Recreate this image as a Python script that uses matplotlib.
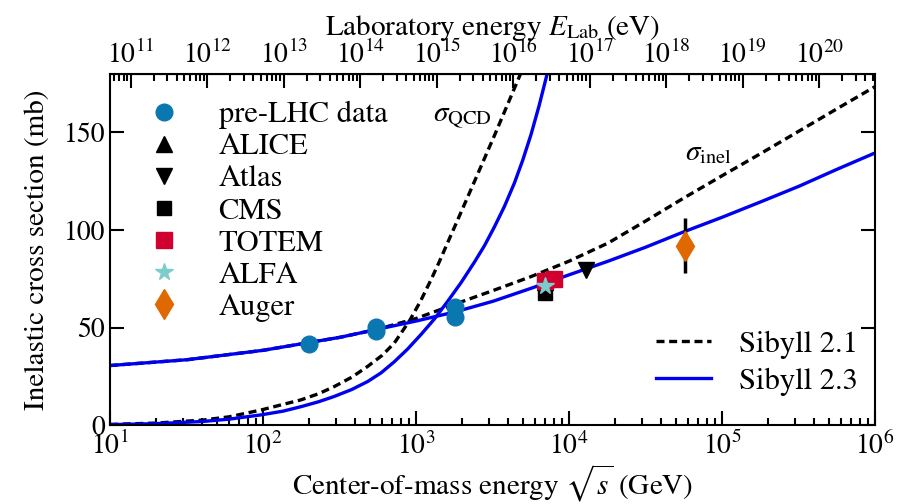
import matplotlib
matplotlib.use("Agg")
import matplotlib.pyplot as plt
from matplotlib.ticker import (FixedLocator, LogLocator, MultipleLocator,
                               NullFormatter)

plt.rcParams["font.family"] = ["STIXGeneral", "DejaVu Serif"]
plt.rcParams["mathtext.fontset"] = "stix"

PROTON_MASS_GEV = 0.938

# Measurements: sqrt(s) in GeV, inelastic cross section in mb
prelhc_sqrts = [200, 546, 546, 1800, 1800]
prelhc_sigma = [41.8, 48.4, 50.3, 55.5, 60.3]
alice_sqrts = [7000]
alice_sigma = [73.2]
atlas_sqrts = [13000]
atlas_sigma = [79.5]
cms_sqrts = [7000]
cms_sigma = [67.5]
cms_err = [3.5]
totem_sqrts = [7000, 8000]
totem_sigma = [73.7, 74.7]
alfa_sqrts = [7000]
alfa_sigma = [71.3]
auger_sqrts = [57000]
auger_sigma = [92.0]
auger_err = [14.0]

# Model curves
inel_sqrts = [10, 32, 100, 320, 560, 1000, 1800, 3200, 5600, 1e4, 1.8e4,
              3.2e4, 5.6e4, 1e5, 1.8e5, 3.2e5, 5.6e5, 1e6]
sib23_inel = [30.5, 33.5, 38.3, 45.0, 49.1, 53.3, 58.0, 63.5, 70.0, 77.0,
              84.0, 91.3, 99.0, 106.5, 114.5, 122.5, 131.0, 139.5]
sib21_inel = [30.5, 33.5, 38.3, 45.0, 49.1, 54.6, 62.0, 69.0, 76.0, 84.0,
              93.3, 104.8, 116.3, 127.8, 139.3, 150.8, 162.0, 173.5]

qcd21_sqrts = [10, 20, 40, 60, 97, 177, 230, 292, 380, 482, 600, 721, 800,
               914, 1070, 1254, 1420, 1610, 1830, 2070, 2350, 2660, 3250,
               3980, 4860, 5300]
sib21_qcd = [0.3, 1.0, 2.5, 4.2, 7.7, 12.9, 16.0, 19.7, 24.5, 30.0, 35.7,
             42.0, 47.2, 53.9, 63.5, 74.5, 83.7, 93.5, 103.4, 113.0, 122.9,
             132.6, 148.3, 164.6, 180.7, 187.6]
qcd23_sqrts = [10, 20, 40, 60, 97, 135, 177, 230, 291, 380, 483, 590, 718,
               880, 1078, 1320, 1610, 1970, 2404, 2800, 3250, 3780, 4393,
               4980, 5650, 6380, 7260, 7800]
sib23_qcd = [0.2, 0.7, 1.8, 3.0, 5.2, 7.1, 9.4, 11.9, 14.6, 18.2, 22.3, 26.7,
             32.3, 38.9, 46.4, 54.4, 63.4, 73.0, 83.4, 91.9, 101.5, 112.0,
             124.0, 135.7, 149.0, 163.8, 181.2, 192.0]

elab_ticks = [1e11, 1e12, 1e13, 1e14, 1e15, 1e16, 1e17, 1e18, 1e19, 1e20]


def sqrts_to_elab(x):
    return x ** 2 / (2 * PROTON_MASS_GEV) * 1e9


def elab_to_sqrts(e):
    return (e * 2 * PROTON_MASS_GEV / 1e9) ** 0.5


fig = plt.figure(figsize=(9.1, 5.04), dpi=100)
ax = fig.add_axes([0.1209, 0.1567, 0.8406, 0.6965])

dash = (0, (2.4, 1.4))
blue = "#0000f0"
h21, = ax.plot(inel_sqrts, sib21_inel, color="black", lw=2.4, ls=dash,
               zorder=2, label="Sibyll 2.1")
ax.plot(qcd21_sqrts, sib21_qcd, color="black", lw=2.4, ls=dash, zorder=2)
h23, = ax.plot(inel_sqrts, sib23_inel, color=blue, lw=2.4, zorder=2.1,
               label="Sibyll 2.3")
ax.plot(qcd23_sqrts, sib23_qcd, color=blue, lw=2.4, zorder=2.1)

ax.errorbar(cms_sqrts, cms_sigma, yerr=cms_err, fmt="none", ecolor="black",
            elinewidth=2.5, zorder=3)
ax.errorbar(auger_sqrts, auger_sigma, yerr=auger_err, fmt="none",
            ecolor="black", elinewidth=2.5, zorder=3)

mk = dict(ls="none", zorder=4)
h_pre, = ax.plot(prelhc_sqrts, prelhc_sigma, "o", color="#0b77b0", ms=12,
                 label="pre-LHC data", **mk)
h_alice, = ax.plot(alice_sqrts, alice_sigma, "^", color="black", ms=11,
                   label="ALICE", **mk)
h_atlas, = ax.plot(atlas_sqrts, atlas_sigma, "v", color="black", ms=11,
                   label="Atlas", **mk)
h_cms, = ax.plot(cms_sqrts, cms_sigma, "s", color="black", ms=10,
                 label="CMS", **mk)
h_totem, = ax.plot(totem_sqrts, totem_sigma, "s", color="#d0002f", ms=12,
                   label="TOTEM", **mk)
h_alfa, = ax.plot(alfa_sqrts, alfa_sigma, "*", color="#7ccccc", ms=13,
                  label="ALFA", **mk)
h_auger, = ax.plot(auger_sqrts, auger_sigma, "d", color="#e06800", ms=15,
                   label="Auger", **mk)

ax.text(1285, 155.5, r"$\sigma_{\rm QCD}$", fontsize=21)
ax.text(57300, 136, r"$\sigma_{\rm inel}$", fontsize=21)

ax.set_xscale("log")
ax.set_xlim(10, 1e6)
ax.set_ylim(0, 180)
ax.yaxis.set_major_locator(MultipleLocator(50))
ax.xaxis.set_major_locator(LogLocator(base=10, numticks=10))
ax.xaxis.set_minor_locator(LogLocator(base=10, subs=range(2, 10), numticks=20))
ax.xaxis.set_minor_formatter(NullFormatter())
ax.tick_params(which="both", direction="in", right=True, labelsize=20,
               width=1.5)
ax.tick_params(which="major", length=10)
ax.tick_params(which="minor", length=5)
ax.tick_params(axis="x", pad=5)
for s in ax.spines.values():
    s.set_linewidth(1.5)

ax.set_xlabel(r"Center-of-mass energy $\sqrt{s}$ (GeV)", fontsize=21,
              labelpad=1)
ax.set_ylabel("Inelastic cross section (mb)", fontsize=21, labelpad=10)

sec = ax.secondary_xaxis("top", functions=(sqrts_to_elab, elab_to_sqrts))
sec.xaxis.set_major_locator(FixedLocator(elab_ticks))
sec.xaxis.set_minor_locator(LogLocator(base=10, subs=range(2, 10), numticks=40))
sec.xaxis.set_minor_formatter(NullFormatter())
sec.tick_params(which="both", direction="in", labelsize=20, width=1.5)
sec.tick_params(which="major", length=10)
sec.tick_params(which="minor", length=5)
sec.set_xlabel(r"Laboratory energy $E_{\rm Lab}$ (eV)", fontsize=21,
               labelpad=4)

leg1 = ax.legend(handles=[h_pre, h_alice, h_atlas, h_cms, h_totem, h_alfa,
                          h_auger],
                 loc="upper left", bbox_to_anchor=(0.034, 0.958),
                 frameon=False, fontsize=22, handlelength=1.0,
                 handletextpad=1.3, labelspacing=0.12, borderaxespad=0)
ax.add_artist(leg1)
ax.legend(handles=[h21, h23], loc="lower right", bbox_to_anchor=(0.993, 0.048),
          frameon=False, fontsize=22, handlelength=1.8, handletextpad=0.9,
          labelspacing=0.28, borderaxespad=0)

fig.savefig("out.png", dpi=100)
